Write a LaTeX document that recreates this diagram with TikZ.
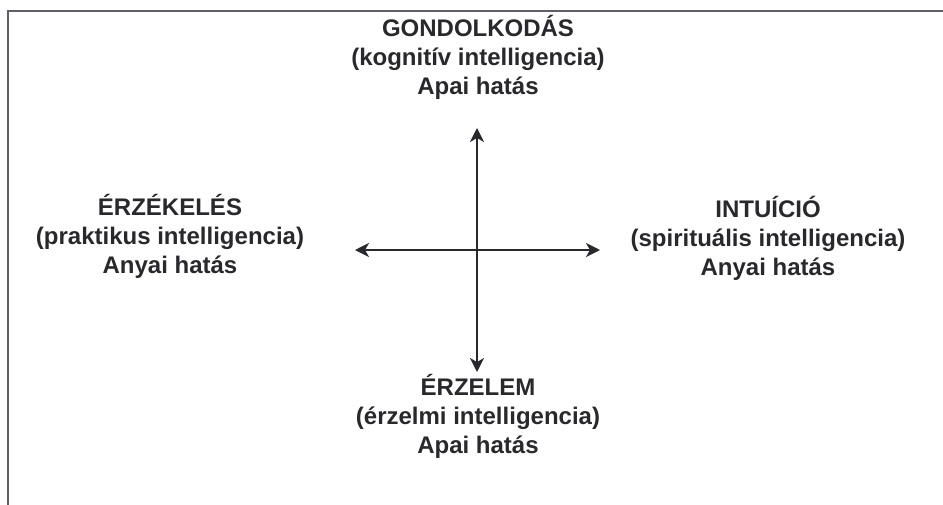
\documentclass[tikz,border=0pt]{standalone}
\usepackage{fontspec}
\setmainfont{Liberation Sans}
\usetikzlibrary{arrows.meta}
\definecolor{inkgray}{RGB}{40,40,45}
\definecolor{framegray}{RGB}{95,95,105}

\begin{document}
\begin{tikzpicture}[x=1pt,y=-1pt]
    \tikzstyle{pole} = [align=center, anchor=base, inner sep=0pt, text=inkgray, font=\fontsize{24}{29}\selectfont\bfseries]
    \tikzstyle{axis} = [line width=1.7pt, draw=inkgray, {Stealth[length=14pt,width=14pt,inset=4pt]}-{Stealth[length=14pt,width=14pt,inset=4pt]}]

    \useasboundingbox (0,0) rectangle (943,504);
    \draw[framegray, line width=2pt] (960,11) -- (8,11) -- (8,520);

    % last line of each label sits on the given baseline
    \node[pole] (think) at (478,94) {GONDOLKODÁS\\(kognitív intelligencia)\\Apai hatás};
    \node[pole] (sense) at (170,273) {ÉRZÉKELÉS\\(praktikus intelligencia)\\Anyai hatás};
    \node[pole] (intuit) at (768,275) {INTUÍCIÓ\\(spirituális intelligencia)\\Anyai hatás};
    \node[pole] (feel) at (478,453) {ÉRZELEM\\(érzelmi intelligencia)\\Apai hatás};

    \coordinate (up) at (477,128);
    \coordinate (down) at (477,372);
    \coordinate (west) at (355,250);
    \coordinate (east) at (600,250);

    \draw[axis] (down) -- (up);
    \draw[axis] (west) -- (east);
\end{tikzpicture}
\end{document}
